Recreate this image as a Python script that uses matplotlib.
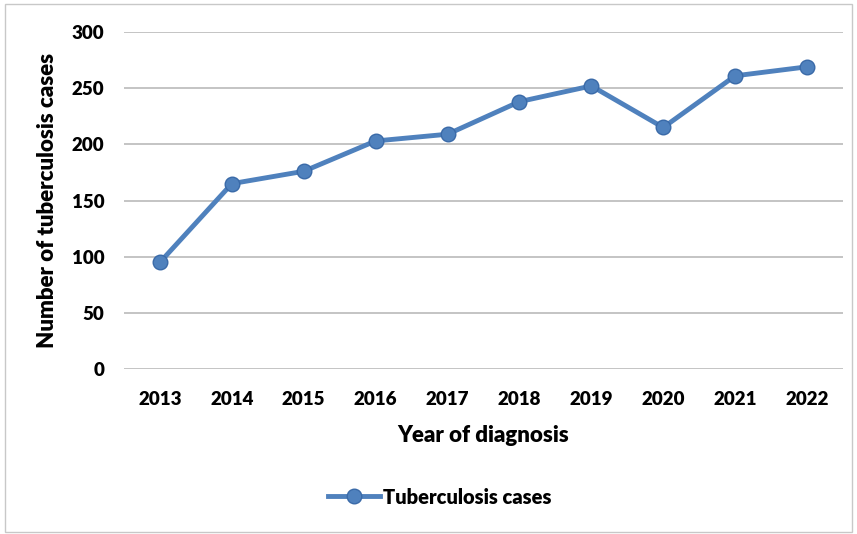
import matplotlib.pyplot as plt
from matplotlib.patches import Rectangle

years = ['2013', '2014', '2015', '2016', '2017', '2018', '2019', '2020', '2021', '2022']
cases = [95, 165, 176, 203, 209, 238, 252, 215, 261, 269]
yticks = [0, 50, 100, 150, 200, 250, 300]

plt.rcParams['font.family'] = ['Lato', 'DejaVu Sans']
plt.rcParams['font.weight'] = 'heavy'

fig = plt.figure(figsize=(8.57, 5.34), dpi=100)
ax = fig.add_axes([124/857, 1 - 369/534, 719/857, 337/534])

x = range(len(years))
ax.plot(x, cases, color='#4F81BD', lw=3.5, marker='o', markersize=10.5,
        markerfacecolor='#4F81BD', markeredgecolor='#3A6AA8', markeredgewidth=1,
        label='Tuberculosis cases', zorder=3)

ax.set_xlim(-0.5, len(years) - 0.5)
ax.set_ylim(0, 300)
ax.set_yticks(yticks)
ax.set_xticks(list(x))
ax.set_xticklabels(years)
ax.grid(axis='y', color='#BFBFBF', lw=1.3)
ax.set_axisbelow(True)
for s in ax.spines.values():
    s.set_visible(False)
ax.tick_params(length=0, labelsize=13.5, pad=14, colors='black')
ax.tick_params(axis='x', pad=16)

ax.set_xlabel('Year of diagnosis', fontsize=16, fontweight='heavy', labelpad=12)
ax.set_ylabel('Number of tuberculosis cases', fontsize=16, fontweight='heavy', labelpad=10)

ax.legend(loc='center', bbox_to_anchor=(440/857, 1 - 497/534), bbox_transform=fig.transFigure,
          frameon=False, fontsize=14.5, handlelength=2.6, handletextpad=0.15)

fig.patches.append(Rectangle((5/857, 2/534), 847/857, 528/534, transform=fig.transFigure,
                             fill=False, edgecolor='#C8C8C8', lw=1))

fig.savefig('out.png', dpi=100)
